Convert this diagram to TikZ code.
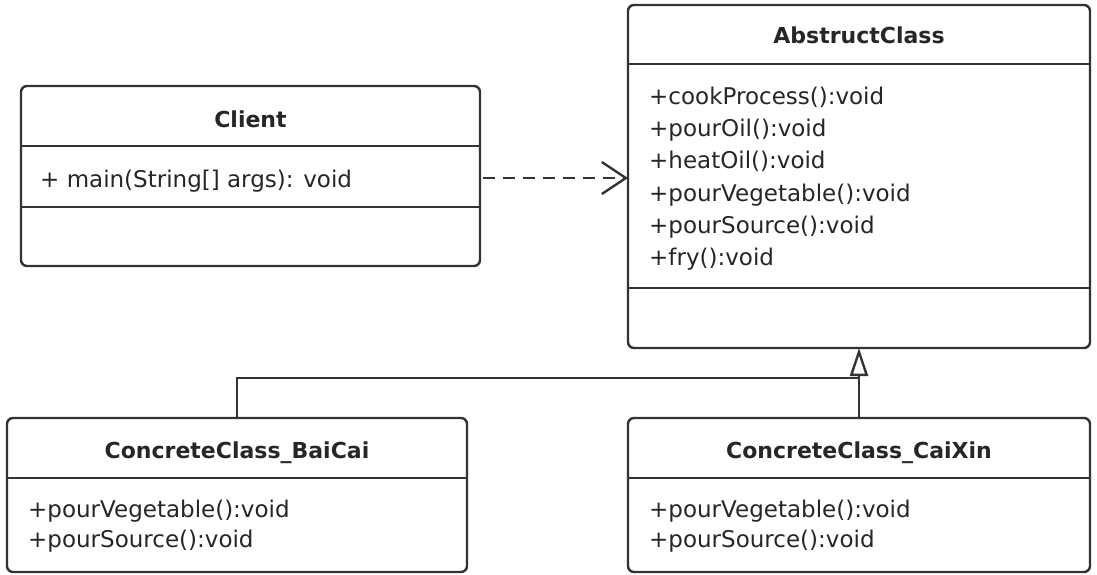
\documentclass[tikz,border=0pt]{standalone}
\usepackage{fontspec}
\setmainfont{DejaVu Sans}
\usetikzlibrary{arrows.meta}
\definecolor{ink}{HTML}{333333}
\definecolor{txt}{HTML}{262626}
\tikzset{
  classbox/.style={draw=ink, line width=2.4pt, rounded corners=6pt, anchor=north west, inner sep=0pt, outer sep=0pt},
  sep/.style={draw=ink, line width=2.4pt},
  title/.style={font=\fontsize{22}{26}\selectfont\bfseries, text=txt, anchor=base, inner sep=0pt},
  member/.style={font=\fontsize{23}{27}\selectfont, text=txt, anchor=base west, inner sep=0pt},
  dep/.style={draw=ink, line width=2.4pt, dash pattern=on 12pt off 8pt, -{Straight Barb[length=24pt,width=32pt,line width=2.4pt]}},
  gen/.style={draw=ink, line width=2.4pt},
  genhead/.style={draw=ink, line width=2.4pt, -{Triangle[open,length=28pt,width=18pt,line width=2.4pt]}}
}
\begin{document}
\begin{tikzpicture}[x=1pt,y=-1pt]
\useasboundingbox (0,0) rectangle (1097,574);
% Client
\node[classbox, minimum width=459pt, minimum height=180pt] (client) at (21,86) {};
\draw[sep] (21,146) -- (480,146);
\draw[sep] (21,207) -- (480,207);
\node[title] (clientT) at (250.5,127) {Client};
\node[member] (clientM) at (40,187) {+ main(String[] args): void};
% Abstract class
\node[classbox, minimum width=462pt, minimum height=343pt] (abs) at (628,5) {};
\draw[sep] (628,64) -- (1090,64);
\draw[sep] (628,288) -- (1090,288);
\node[title] (absT) at (859,43) {AbstructClass};
\node[member] (a1) at (649,104) {+cookProcess():void};
\node[member] (a2) at (649,136) {+pourOil():void};
\node[member] (a3) at (649,168) {+heatOil():void};
\node[member] (a4) at (649,201) {+pourVegetable():void};
\node[member] (a5) at (649,233) {+pourSource():void};
\node[member] (a6) at (649,265) {+fry():void};
% BaiCai
\node[classbox, minimum width=460pt, minimum height=154pt] (bai) at (7,418) {};
\draw[sep] (7,478) -- (467,478);
\node[title] (baiT) at (237,458) {ConcreteClass\_BaiCai};
\node[member] (b1) at (28,517) {+pourVegetable():void};
\node[member] (b2) at (28,547) {+pourSource():void};
% CaiXin
\node[classbox, minimum width=462pt, minimum height=154pt] (cai) at (628,418) {};
\draw[sep] (628,478) -- (1090,478);
\node[title] (caiT) at (859,458) {ConcreteClass\_CaiXin};
\node[member] (c1) at (649,517) {+pourVegetable():void};
\node[member] (c2) at (649,547) {+pourSource():void};
% connectors
\draw[dep] ([xshift=3pt,yshift=-2pt]client.east) -- ([yshift=-2pt]client.east -| abs.west);
\coordinate (join) at (859,378);
\draw[gen] (bai.north) |- (join);
\draw[genhead] (cai.north) -- (abs.south);
\end{tikzpicture}
\end{document}
